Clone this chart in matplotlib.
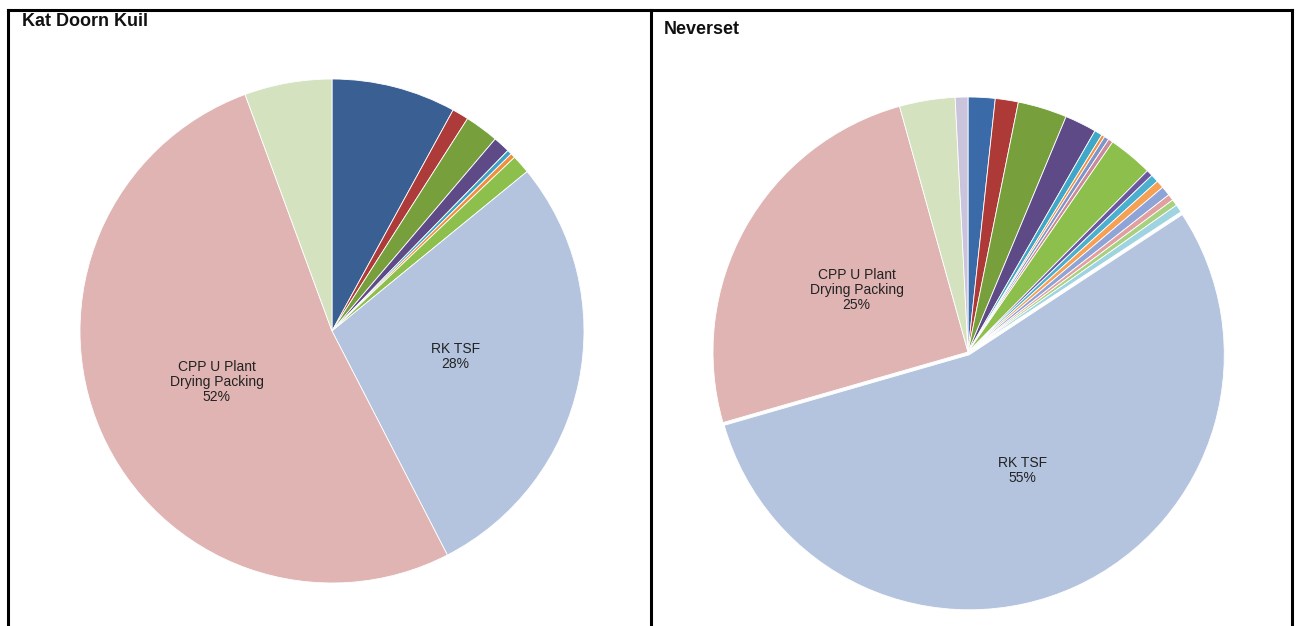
import numpy as np
import matplotlib
matplotlib.use("Agg")
import matplotlib.pyplot as plt
from matplotlib.lines import Line2D

plt.rcParams["font.family"] = ["Liberation Sans", "DejaVu Sans"]

# Kat Doorn Kuil -- slices in Excel order (clockwise from 12 o'clock)
KDK_NAMES = ["", "", "", "", "", "", "", "RK TSF", "CPP U Plant\nDrying Packing", ""]
KDK_VALUES = [7.97, 1.06, 2.17, 1.08, 0.3, 0.3, 1.2, 28.3, 51.9, 5.6]
KDK_COLORS = ["#3A5F93", "#AC3B39", "#77A03C", "#5E4A86", "#3FA2C2", "#F08F3E",
              "#8DBF4D", "#B4C4DF", "#DFB4B3", "#D5E2BF"]

# Neverset
NEV_NAMES = [""] * 16 + ["RK TSF", "CPP U Plant\nDrying Packing", "", ""]
NEV_VALUES = [1.7, 1.45, 3.1, 2.0, 0.5, 0.2, 0.3, 0.3, 2.8, 0.4, 0.5, 0.5, 0.6,
              0.4, 0.4, 0.5, 54.5, 25.0, 3.5, 0.8]
NEV_COLORS = ["#3A6AA8", "#AE3A38", "#77A03C", "#5E4A86", "#3FA7C8", "#F0913F",
              "#7F95C7", "#C98A9A", "#8DBF4D", "#6A57A0", "#4BB0CF", "#F5A054",
              "#8FA4D6", "#E0A0A0", "#A8D080", "#9ED3DF", "#B4C4DF", "#DFB4B3",
              "#D5E2BF", "#C9C3DB"]

W, H = 1297, 626
fig = plt.figure(figsize=(W / 100, H / 100), dpi=100)
fig.patch.set_facecolor("white")


def pie_axes(cx, cy, r, lim):
    # square axes in pixels, centred on (cx, cy) measured from top-left
    half = r * lim
    return fig.add_axes([(cx - half) / W, (H - cy - half) / H, 2 * half / W, 2 * half / H])


def draw_pie(ax, values, names, colors, lim, explode=None):
    wedges, _, autotexts = ax.pie(values, colors=colors, startangle=90, counterclock=False,
                                  explode=explode, autopct="%1.0f%%", pctdistance=0.5,
                                  wedgeprops=dict(edgecolor="white", linewidth=0.6),
                                  textprops=dict(fontsize=10, color="#222222"))
    for t, name in zip(autotexts, names):
        if name:
            t.set_text(f"{name}\n{t.get_text()}")
            t.set_linespacing(1.1)
        else:
            t.set_text("")
    ax.set_xlim(-lim, lim)
    ax.set_ylim(-lim, lim)
    ax.set_aspect("equal")
    ax.axis("off")


ax1 = pie_axes(332, 331, 252, 1.0)
draw_pie(ax1, KDK_VALUES, KDK_NAMES, KDK_COLORS, 1.0)

lim2 = 1.04
ax2 = pie_axes(968, 352, 255, lim2)
explode = [0.0] * len(NEV_VALUES)
explode[NEV_NAMES.index("RK TSF")] = 0.012
draw_pie(ax2, NEV_VALUES, NEV_NAMES, NEV_COLORS, lim2, explode=explode)

# panel frames (open at the bottom, as in the source)
def px(x, y):
    return x / W, 1 - y / H

for (x0, y0), (x1, y1) in [((8, 10), (1292, 10)), ((8, 10), (8, 640)),
                           ((651, 10), (651, 640)), ((1292, 10), (1292, 640))]:
    a, b = px(x0, y0)
    c, d = px(x1, y1)
    fig.add_artist(Line2D([a, c], [b, d], color="black", linewidth=2.2,
                          transform=fig.transFigure))

fig.text(22 / W, 1 - 21 / H, "Kat Doorn Kuil", fontsize=13, fontweight="bold",
         va="center", ha="left", color="#111111")
fig.text(664 / W, 1 - 30 / H, "Neverset", fontsize=13, fontweight="bold",
         va="center", ha="left", color="#111111")

fig.savefig("out.png", dpi=100)
